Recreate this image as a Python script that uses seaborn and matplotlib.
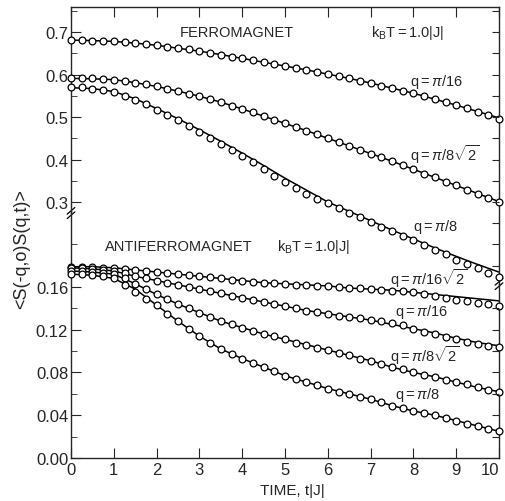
import numpy as np
import pandas as pd
import seaborn as sns
import matplotlib.pyplot as plt

sns.set_style("ticks")
plt.rcParams["font.family"] = ["Liberation Sans", "DejaVu Sans"]
plt.rcParams["mathtext.fontset"] = "custom"
plt.rcParams["mathtext.rm"] = "Liberation Sans"
plt.rcParams["mathtext.it"] = "Liberation Sans:italic"

# time grids: simulation points every 0.25, theory curves every 0.5
t_pts = np.linspace(0, 10, 41)
t_line = np.linspace(0, 10, 21)

# ferromagnet, kT = 1.0|J|
fm_q16_line = [.681, .680, .678, .674, .669, .662, .655, .647, .638, .629, .620,
               .611, .601, .591, .580, .568, .556, .542, .528, .513, .498]
fm_q8r2_line = [.591, .590, .588, .581, .572, .561, .549, .535, .519, .502, .485,
                .468, .450, .432, .414, .396, .377, .358, .339, .320, .301]
fm_q8_line = [.569, .567, .560, .543, .520, .496, .470, .443, .415, .386, .356,
              .328, .300, .278, .256, .234, .213, .192, .172, .153, .135]

fm_q16_pts = [.681, .681, .680, .679, .678, .676, .674, .672, .669, .666, .662,
              .659, .655, .651, .647, .642, .638, .634, .629, .625, .620, .615,
              .611, .606, .601, .596, .591, .585, .580, .574, .568, .562, .556,
              .549, .542, .535, .528, .521, .513, .505, .496]
fm_q8r2_pts = [.592, .591, .591, .589, .587, .584, .581, .577, .572, .567, .561,
               .555, .549, .542, .535, .527, .519, .511, .503, .494, .485, .476,
               .467, .459, .450, .441, .432, .423, .414, .405, .396, .386, .377,
               .367, .358, .348, .339, .329, .320, .310, .300]
fm_q8_pts = [.571, .570, .567, .564, .558, .549, .539, .530, .517, .505, .493,
             .479, .464, .451, .436, .423, .409, .393, .378, .362, .346, .333,
             .320, .308, .297, .286, .275, .264, .253, .242, .232, .221, .211,
             .198, .187, .177, .164, .154, .144, .134, .124]

# antiferromagnet, kT = 1.0|J|
af_q16r2_line = [.179, .179, .178, .176, .174, .172, .170, .168, .166, .164, .163,
                 .162, .161, .159, .158, .157, .155, .153, .151, .149, .147]
af_q16_line = [.178, .177, .175, .170, .166, .162, .158, .154, .150, .146, .142,
               .138, .135, .132, .129, .125, .121, .117, .112, .108, .105]
af_q8r2_line = [.175, .174, .172, .163, .153, .144, .136, .128, .122, .116, .111,
                .106, .101, .096, .091, .085, .080, .076, .071, .066, .062]
af_q8_line = [.172, .171, .168, .158, .143, .128, .114, .102, .093, .085, .077,
              .071, .065, .060, .055, .049, .044, .040, .035, .030, .025]

af_q16r2_pts = [.179, .179, .179, .178, .178, .177, .176, .175, .174, .173, .172,
                .171, .170, .169, .168, .167, .166, .165, .164, .164, .163, .162,
                .162, .161, .161, .160, .159, .159, .158, .157, .156, .156, .155,
                .153, .152, .150, .148, .147, .145, .144, .142]
af_q16_pts = [.178, .178, .177, .176, .175, .173, .170, .168, .166, .164, .162,
              .160, .158, .156, .154, .152, .150, .148, .146, .144, .142, .140,
              .138, .137, .135, .133, .132, .131, .129, .128, .126, .124, .121,
              .118, .116, .113, .111, .109, .107, .105, .104]
af_q8r2_pts = [.175, .175, .174, .173, .172, .168, .163, .158, .153, .149, .144,
               .140, .136, .132, .128, .125, .122, .119, .116, .114, .111, .108,
               .106, .103, .101, .098, .096, .093, .091, .088, .085, .083, .080,
               .078, .076, .073, .071, .069, .066, .064, .062]
af_q8_pts = [.172, .172, .171, .170, .168, .162, .155, .149, .143, .135, .128,
             .121, .114, .108, .102, .097, .093, .089, .085, .081, .077, .074,
             .071, .068, .065, .062, .060, .057, .055, .052, .049, .047, .044,
             .042, .040, .037, .035, .032, .030, .027, .025]

fm_labels = [r"$\mathrm{q}=\pi/16$", r"$\mathrm{q}=\pi/8\sqrt{2}$", r"$\mathrm{q}=\pi/8$"]
af_labels = [r"$\mathrm{q}=\pi/16\sqrt{2}$", r"$\mathrm{q}=\pi/16$",
             r"$\mathrm{q}=\pi/8\sqrt{2}$", r"$\mathrm{q}=\pi/8$"]

fm_lines = [fm_q16_line, fm_q8r2_line, fm_q8_line]
fm_pts = [fm_q16_pts, fm_q8r2_pts, fm_q8_pts]
af_lines = [af_q16r2_line, af_q16_line, af_q8r2_line, af_q8_line]
af_pts = [af_q16r2_pts, af_q16_pts, af_q8r2_pts, af_q8_pts]

fig = plt.figure(figsize=(5.05, 5.02), dpi=100)
L, W = 71 / 505, 428 / 505
ax_top = fig.add_axes([L, 1 - 285 / 502, W, 277 / 502])
ax_bot = fig.add_axes([L, 1 - 459 / 502, W, 247 / 502])
for ax in (ax_top, ax_bot):
    ax.patch.set_visible(False)


def draw(ax, lines, pts):
    for ln, pt in zip(lines, pts):
        sns.lineplot(x=t_line, y=ln, ax=ax, color="black", lw=1.1, zorder=2)
        sns.scatterplot(x=t_pts, y=pt, ax=ax, s=24, marker="o", facecolor="white",
                        edgecolor="black", linewidth=0.9, zorder=3, clip_on=False)


draw(ax_top, fm_lines, fm_pts)
draw(ax_bot, af_lines, af_pts)

ylim_top = (0.107, 0.759)
ylim_bot = (0.0, 0.2311)
for ax, yl in ((ax_top, ylim_top), (ax_bot, ylim_bot)):
    ax.set_xlim(0, 10)
    ax.set_ylim(*yl)
    ax.set_xticks(range(11))
    ax.set_xlabel("")
    ax.set_ylabel("")
    for s in ax.spines.values():
        s.set_linewidth(1.0)

# top panel: left axis broken at ~0.27, right side runs further down
ax_top.spines["bottom"].set_visible(False)
ax_top.spines["left"].set_bounds(0.274, ylim_top[1])
ax_top.tick_params(axis="x", top=True, bottom=False, labelbottom=False,
                   direction="in", length=7)
ax_top.set_yticks([0.3, 0.4, 0.5, 0.6, 0.7])
ax_top.set_yticklabels(["0.3", "0.4", "0.5", "0.6", "0.7"])
ax_top.set_yticks([0.35, 0.45, 0.55, 0.65, 0.75], minor=True)

ax_bot.spines["top"].set_visible(False)
ax_bot.spines["right"].set_bounds(0, 0.163)
ax_bot.tick_params(axis="x", top=False, bottom=True, direction="in", length=7,
                   labelsize=12, pad=3)
ax_bot.set_yticks([0.0, 0.04, 0.08, 0.12, 0.16])
ax_bot.set_yticklabels(["0.00", "0.04", "0.08", "0.12", "0.16"])
ax_bot.set_yticks([0.02, 0.06, 0.10, 0.14, 0.20], minor=True)
ax_bot.set_xticklabels([str(i) for i in range(11)])
ax_bot.get_xticklabels()[-1].set_horizontalalignment("right")

for ax in (ax_top, ax_bot):
    ax.tick_params(axis="y", which="major", direction="in", length=7,
                   labelsize=12, pad=2, left=True, right=False)
    ax.tick_params(axis="y", which="minor", direction="in", length=4,
                   left=True, right=False)

# right-hand ticks
for ax, yl, ticks in ((ax_top, ylim_top, [0.15, 0.2, 0.25, 0.3, 0.35, 0.4, 0.45,
                                          0.5, 0.55, 0.6, 0.65, 0.7, 0.75]),
                      (ax_bot, ylim_bot, [0.02, 0.04, 0.06, 0.08, 0.10, 0.12, 0.14])):
    axr = ax.twinx()
    axr.set_ylim(*yl)
    axr.set_yticks(ticks)
    axr.tick_params(axis="y", direction="in", length=5, labelright=False)
    for s in axr.spines.values():
        s.set_visible(False)


# break marks
def slashes(ax, x, y):
    for k in (0, 1):
        ax.plot([x - 0.009, x + 0.009], [y - 0.012 - 0.016 * k, y + 0.012 - 0.016 * k],
                transform=ax.transAxes, color="black", lw=0.9, clip_on=False)


slashes(ax_top, 0.0, (0.274 - ylim_top[0]) / (ylim_top[1] - ylim_top[0]) + 0.008)
slashes(ax_top, 1.0, 0.008)

txt = dict(fontsize=10.5, va="center", ha="left")
ax_top.text(2.55, 0.70, "FERROMAGNET", **txt)
ax_top.text(7.0, 0.70, r"$\mathrm{k_BT=1.0|J|}$", **txt)
for lab, (tx, ty) in zip(fm_labels, [(7.92, 0.585), (7.92, 0.413), (7.99, 0.244)]):
    ax_top.text(tx, ty, lab, **txt)

ax_bot.text(0.79, 0.198, "ANTIFERROMAGNET", **txt)
ax_bot.text(4.82, 0.198, r"$\mathrm{k_BT=1.0|J|}$", **txt)
for lab, (tx, ty) in zip(af_labels, [(7.45, 0.169), (7.57, 0.1375),
                                     (7.45, 0.097), (7.57, 0.060)]):
    ax_bot.text(tx, ty, lab, **txt)

fig.text(22 / 505, 1 - 249 / 502, "<S(-q,o)S(q,t)>", rotation=90,
         ha="center", va="center", fontsize=13)
fig.text(292 / 505, 1 - 491 / 502, "TIME, t|J|", ha="center", va="center",
         fontsize=11)

fig.savefig("out.png", dpi=100)
